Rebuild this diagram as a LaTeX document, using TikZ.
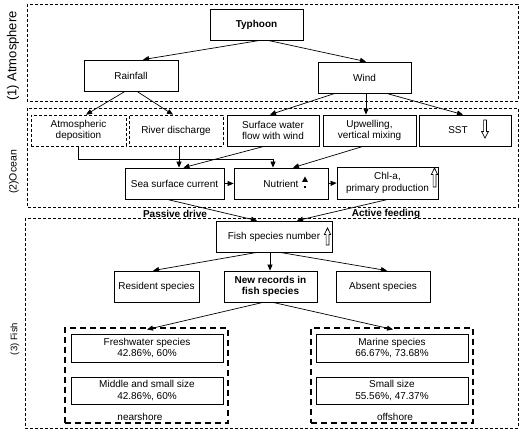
\documentclass[tikz,border=0pt]{standalone}
\usepackage{fontspec}
\setmainfont{Liberation Sans}
\usetikzlibrary{arrows.meta,calc}
\tikzset{
  box/.style={draw=black, line width=0.8pt, align=center, inner sep=1pt, font=\fontsize{10}{11.5}\selectfont},
  dbox/.style={box, dash pattern=on 3pt off 2pt, line width=0.7pt},
  region/.style={draw=black, line width=0.7pt, dash pattern=on 3pt off 2pt},
  zone/.style={draw=black, line width=1.1pt, dash pattern=on 6pt off 4pt},
  arr/.style={draw=black, line width=0.7pt, -{Triangle[length=6pt,width=5pt]}},
  side/.style={rotate=90, inner sep=0pt},
  tag/.style={font=\fontsize{10}{12}\selectfont\bfseries, inner sep=0pt},
  hollow/.style={draw=black, line width=0.7pt, fill=white},
}
\begin{document}
\begin{tikzpicture}[x=1pt,y=-1pt]
\useasboundingbox (0,0) rectangle (520,430);
% regions
\draw[region] (27,4) rectangle (518,101);
\draw[region] (27,108) rectangle (518,207);
\draw[region] (25,218) rectangle (518,428);
\node[side, font=\fontsize{13}{15}\selectfont] (latm) at (13,56) {(1) Atmosphere};
\node[side, font=\fontsize{10.5}{12}\selectfont] (locean) at (14,172) {(2)Ocean};
\node[side, font=\fontsize{9.5}{11}\selectfont] (lfish) at (15,339) {(3) Fish};

% atmosphere
\node[box, minimum width=93pt, minimum height=31pt, font=\fontsize{10}{11.5}\selectfont\bfseries] (typhoon) at (256.5,24.5) {Typhoon};
\node[box, minimum width=94pt, minimum height=31pt] (rain) at (131,75.5) {Rainfall};
\node[box, minimum width=93pt, minimum height=31pt] (wind) at (364.5,77.5) {Wind};

% ocean
\node[dbox, minimum width=95pt, minimum height=31pt] (atmdep) at (78.5,130.5) {Atmospheric\\deposition};
\node[dbox, minimum width=94pt, minimum height=31pt] (river) at (176,130.5) {River discharge};
\node[box, minimum width=92pt, minimum height=31pt] (surf) at (273,130.5) {Surface water\\flow with wind};
\node[box, minimum width=93pt, minimum height=31pt] (upw) at (369.5,130.5) {Upwelling,\\vertical mixing};
\node[box, minimum width=92pt, minimum height=31pt] (sst) at (465,130.5) {SST\hspace{14pt}};
\node[box, minimum width=99pt, minimum height=31pt] (ssc) at (174.5,183.5) {Sea surface current};
\node[box, minimum width=94pt, minimum height=31pt] (nut) at (281,183.5) {Nutrient};
\node[box, minimum width=101pt, minimum height=32pt] (chl) at (387.5,183) {Chl-a,\\primary production};

% fish
\node[box, minimum width=116pt, minimum height=31pt] (fishn) at (274,236.5) {Fish species number};
\node[box, minimum width=85pt, minimum height=31pt] (res) at (156.5,286.5) {Resident species};
\node[box, minimum width=93pt, minimum height=31pt, font=\fontsize{10}{11.5}\selectfont\bfseries] (newrec) at (270.5,286.5) {New records in\\fish species};
\node[box, minimum width=94pt, minimum height=31pt] (absent) at (383,286.5) {Absent species};

\node[zone, minimum width=163pt, minimum height=95pt] (near) at (146.5,375.5) {};
\node[zone, minimum width=162pt, minimum height=95pt] (off) at (392,375.5) {};
\node[box, minimum width=152pt, minimum height=28pt] (fresh) at (147,348) {Freshwater species\\42.86\%, 60\%};
\node[box, minimum width=152pt, minimum height=27pt] (mid) at (147,390.5) {Middle and small size\\42.86\%, 60\%};
\node[box, minimum width=152pt, minimum height=28pt] (marine) at (392,348) {Marine species\\66.67\%, 73.68\%};
\node[box, minimum width=152pt, minimum height=27pt] (small) at (392,390.5) {Small size\\55.56\%, 47.37\%};
\node[inner sep=0pt, font=\fontsize{10}{11.5}\selectfont] (nearlbl) at (140,417) {nearshore};
\node[inner sep=0pt, font=\fontsize{10}{11.5}\selectfont] (offlbl) at (395,417) {offshore};

\node[tag] (passive) at (175,214) {Passive drive};
\node[tag] (active) at (386,214) {Active feeding};

% symbols
\draw[hollow] (485,138) -- (488.4,131.5) -- (486.4,131.5) -- (486.4,120) -- (483.6,120) -- (483.6,131.5) -- (481.6,131.5) -- cycle;
\draw[hollow] (434.5,168) -- (437.7,174.5) -- (435.9,174.5) -- (435.9,187) -- (433.1,187) -- (433.1,174.5) -- (431.3,174.5) -- cycle;
\draw[hollow] (327.5,228) -- (330.7,234.5) -- (328.9,234.5) -- (328.9,245) -- (326.1,245) -- (326.1,234.5) -- (324.3,234.5) -- cycle;
\fill[black] (305,176.5) -- (308,182) -- (302,182) -- cycle;
\fill[black] (303.8,185.8) rectangle (306.2,188.2);

% connectors
\draw[arr] ([xshift=3.5pt]typhoon.south) -- ([xshift=12pt]rain.north);
\draw[arr] ([xshift=11.5pt]typhoon.south) -- ([xshift=1.5pt]wind.north);
\draw[arr] ([xshift=-6pt]rain.south) -- ([xshift=7.5pt]atmdep.north);
\draw[arr] ([xshift=6pt]rain.south) -- ([xshift=-3pt]river.north);
\draw[arr] ([xshift=-29.5pt]wind.south) -- ([xshift=-3pt]surf.north);
\draw[arr] ([xshift=1.5pt]wind.south) -- ([xshift=-3.5pt]upw.north);
\draw[arr] ([xshift=22pt]wind.south) -- ([xshift=-2pt]sst.north);

\draw[arr] (atmdep.south) -- ++(0,13) -| ([xshift=-8pt]nut.north);
\draw[arr] ([xshift=3pt]river.south) -- ([xshift=4.5pt]ssc.north);
\draw[arr] ([xshift=-9pt]surf.south) -- ([xshift=9pt]ssc.north);
\draw[arr] ([xshift=-6.5pt]upw.south) -- ([xshift=12pt]nut.north);
\draw[arr] (ssc.east) -- (nut.west);
\draw[arr] (nut.east) -- (chl.west);

\draw[arr] ([xshift=-7.5pt]ssc.south) -- ([xshift=-17pt]fishn.north);
\draw[arr] ([xshift=0.5pt]chl.south) -- ([xshift=23pt]fishn.north);

\draw[arr] ([xshift=-17pt]fishn.south) -- ([xshift=-3.5pt]res.north);
\draw[arr] ([xshift=-4pt]fishn.south) -- ([xshift=-0.5pt]newrec.north);
\draw[arr] ([xshift=6pt]fishn.south) -- ([xshift=4pt]absent.north);
\draw[arr] ([xshift=-7.5pt]newrec.south) -- ([xshift=0.5pt,yshift=-2pt]near.north);
\draw[arr] ([xshift=2.5pt]newrec.south) -- ([xshift=1pt,yshift=-2pt]off.north);
\end{tikzpicture}
\end{document}
